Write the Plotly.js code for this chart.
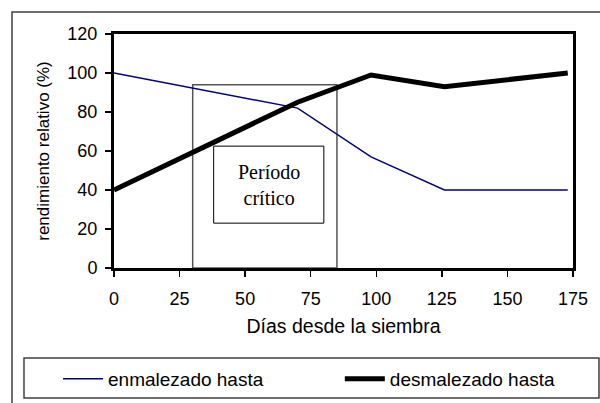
<!DOCTYPE html>
<html>
<head>
<meta charset="utf-8">
<script src="https://cdn.plot.ly/plotly-3.0.1.min.js"></script>
<style>html,body{margin:0;padding:0;background:#fff;}#chart{width:600px;height:403px;}</style>
</head>
<body>
<div id="chart"></div>
<script>
// Data
const dias = [0, 70, 98, 126, 173];
const enmalezado = [100, 82, 57, 40, 40];
const desmalezado = [40, 85, 99, 93, 100];
const xTicks = [0, 25, 50, 75, 100, 125, 150, 175];
const yTicks = [0, 20, 40, 60, 80, 100, 120];
const serieNames = ['enmalezado hasta', 'desmalezado hasta'];
const periodoCritico = [30, 85];   // days
const periodoTop = 94;
const labelText = 'Período<br>crítico';

const FONT = '"Liberation Sans", Arial, sans-serif';

const traces = [
  {x: dias, y: enmalezado, name: serieNames[0], mode: 'lines',
   line: {color: '#000080', width: 1.5}, legend: 'legend'},
  {x: dias, y: desmalezado, name: serieNames[1], mode: 'lines',
   line: {color: '#000000', width: 5}, legend: 'legend2'}
];

const layout = {
  width: 600, height: 403,
  margin: {l: 114, r: 27, t: 34, b: 135, autoexpand: false},
  paper_bgcolor: '#ffffff', plot_bgcolor: '#ffffff',
  font: {family: FONT, size: 18, color: '#000'},
  showlegend: true,
  xaxis: {
    range: [0, 175], tickvals: xTicks, ticktext: xTicks.map(String),
    showgrid: false, zeroline: false,
    showline: true, mirror: true, linewidth: 3, linecolor: '#000',
    ticks: 'outside', ticklen: 6, tickwidth: 1.5, tickcolor: '#000',
    ticklabelstandoff: 6,
    tickfont: {family: FONT, size: 18},
    title: {text: 'Días desde la siembra', font: {family: FONT, size: 19.5}, standoff: 12}
  },
  yaxis: {
    range: [0, 120], tickvals: yTicks, ticktext: yTicks.map(String),
    showgrid: false, zeroline: false,
    showline: true, mirror: true, linewidth: 3, linecolor: '#000',
    ticks: 'outside', ticklen: 6, tickwidth: 1.5, tickcolor: '#000',
    ticklabelstandoff: 4,
    tickfont: {family: FONT, size: 18},
    title: {text: 'rendimiento relativo (%)', font: {family: FONT, size: 17}, standoff: 14}
  },
  legend: {x: -0.122, y: -0.474, xanchor: 'left', yanchor: 'middle',
    orientation: 'h', bgcolor: 'rgba(0,0,0,0)', borderwidth: 0,
    font: {family: FONT, size: 19}, itemwidth: 40},
  legend2: {x: 0.492, y: -0.474, xanchor: 'left', yanchor: 'middle',
    orientation: 'h', bgcolor: 'rgba(0,0,0,0)', borderwidth: 0,
    font: {family: FONT, size: 19}, itemwidth: 40},
  shapes: [
    // outer chart border
    {type: 'rect', xref: 'paper', yref: 'paper', x0: -0.2222, x1: 1.07, y0: -0.59, y1: 1.094,
     line: {color: '#404040', width: 1.5}, fillcolor: 'rgba(0,0,0,0)', layer: 'below'},
    // legend box
    {type: 'rect', xref: 'paper', yref: 'paper', x0: -0.1961, x1: 1.0566, y0: -0.5556, y1: -0.3846,
     line: {color: '#404040', width: 1.5}, fillcolor: 'rgba(0,0,0,0)', layer: 'below'},
    // critical period box
    {type: 'rect', xref: 'x', yref: 'y', x0: periodoCritico[0], x1: periodoCritico[1], y0: 0, y1: periodoTop,
     line: {color: '#555555', width: 1.5}, fillcolor: 'rgba(0,0,0,0)', layer: 'below'},
    // label box
    {type: 'rect', xref: 'x', yref: 'y', x0: 38, x1: 80, y0: 23, y1: 62.5,
     line: {color: '#000', width: 1}, fillcolor: '#ffffff', layer: 'below'}
  ],
  annotations: [
    {x: 59, y: 42.7, xref: 'x', yref: 'y', text: labelText, showarrow: false,
     font: {family: '"Liberation Serif", "Times New Roman", serif', size: 20, color: '#000'},
     align: 'center'}
  ]
};

Plotly.newPlot('chart', traces, layout, {staticPlot: true, displayModeBar: false});
</script>
</body>
</html>
